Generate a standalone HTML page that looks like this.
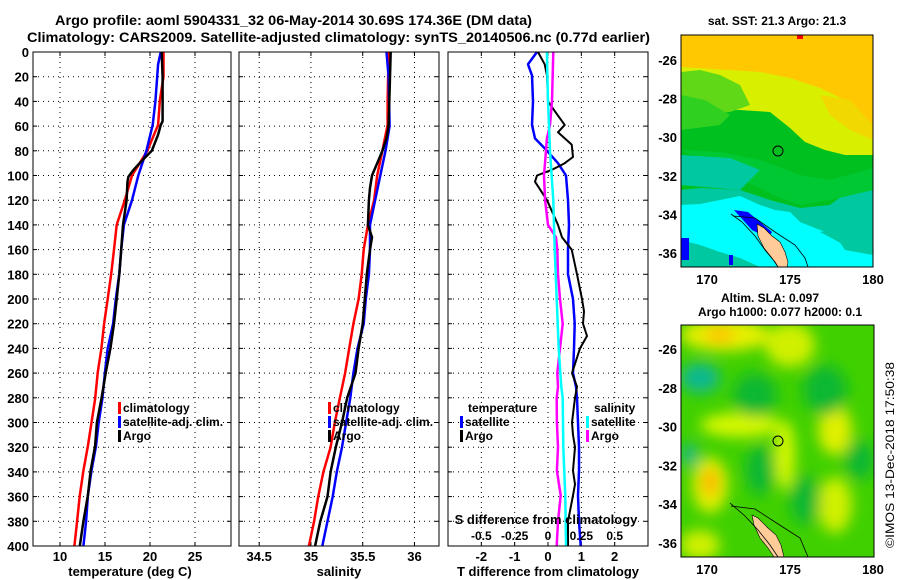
<!DOCTYPE html>
<html><head><meta charset="utf-8"><style>
html,body{margin:0;padding:0;background:#fff;}
svg{display:block;font-family:"Liberation Sans",Arial,sans-serif;font-weight:bold;}
</style></head><body>
<svg id="s" width="900" height="580" viewBox="0 0 900 580">
<defs>
<clipPath id="cm1"><rect x="681" y="35" width="192" height="232"/></clipPath>
<clipPath id="cm2"><rect x="681" y="325" width="193" height="232"/></clipPath>
<filter id="bl" x="-50%" y="-50%" width="200%" height="200%"><feGaussianBlur stdDeviation="7"/></filter>
</defs>
<text x="55" y="25" font-size="14" textLength="477" lengthAdjust="spacingAndGlyphs">Argo profile: aoml 5904331_32 06-May-2014 30.69S 174.36E (DM data)</text>
<text x="27" y="42" font-size="14" textLength="623" lengthAdjust="spacingAndGlyphs">Climatology: CARS2009. Satellite-adjusted climatology: synTS_20140506.nc (0.77d earlier)</text>
<g id="plots"></g>
<!-- Top map -->
<g>
<text x="777" y="25" font-size="12" text-anchor="middle">sat. SST: 21.3 Argo: 21.3</text>
<g clip-path="url(#cm1)">
<rect x="681" y="35" width="192" height="232" fill="#00c8a0"/>
<polygon fill="#00c020" points="681,110 873,110 873,185 850,190 830,205 800,208 770,200 740,190 700,188 681,190"/>
<polygon fill="#d8f000" points="681,67 873,67 873,155 845,155 825,150 805,142 790,128 770,112 740,110 705,110 681,112"/>
<polygon fill="#ffc800" points="681,35 873,35 873,125 860,115 845,100 820,88 790,78 760,72 730,70 681,67"/>
<polygon fill="#f0d800" points="820,95 850,100 873,125 873,140 850,130 830,115"/>
<polygon fill="#60d818" points="681,72 700,70 720,75 740,85 750,105 730,112 700,115 681,118"/>
<polygon fill="#30d020" points="681,95 705,100 730,115 720,125 681,130"/>
<polygon fill="#00c832" points="681,150 720,152 760,160 800,175 830,180 873,168 873,190 830,200 800,205 780,198"/>
<polygon fill="#00c8a0" points="681,155 730,158 760,170 740,190 681,185"/>
<polygon fill="#00ffff" points="681,205 700,204 720,200 740,196 760,205 775,210 790,212 800,222 820,230 835,235 845,250 873,255 873,267 681,267"/>
<polygon fill="#00c8a0" points="681,240 700,245 720,252 740,258 760,267 681,267"/>
<polygon fill="#00c8a0" points="820,232 873,222 873,250 850,248"/>
<polygon fill="#0000ff" points="734,210 748,212 760,222 772,232 768,238 752,230"/>
<rect x="681" y="238" width="8" height="22" fill="#0000ff"/>
<rect x="729" y="255" width="4" height="10" fill="#0000ff"/>
<rect x="797" y="35" width="6" height="4" fill="#ff0000"/>
<polygon fill="#ffcc99" stroke="#000" stroke-width="0.6" points="757,224 764,228 772,236 780,242 785,252 788,262 787,267 778,267 772,258 764,248 758,236"/>
<polyline fill="none" stroke="#000" stroke-width="0.8" points="731,214 742,222 755,236 765,250 775,262 778,267"/>
<polyline fill="none" stroke="#000" stroke-width="0.8" points="733,216 755,218 775,232 795,245 805,258 808,267"/>
</g>
<circle cx="778" cy="151" r="5" fill="none" stroke="#000" stroke-width="1"/>
<rect x="681" y="35" width="192" height="232" fill="none" stroke="#000" stroke-width="1"/>
</g>
<!-- Bottom map -->
<g>
<text x="770" y="302" font-size="12" text-anchor="middle">Altim. SLA: 0.097</text>
<text x="780" y="316" font-size="12" text-anchor="middle">Argo h1000: 0.077 h2000: 0.1</text>
<g clip-path="url(#cm2)">
<rect x="681" y="325" width="193" height="232" fill="#40d000"/>
<g filter="url(#bl)">
<ellipse cx="725" cy="335" rx="45" ry="16" fill="#e8f000"/>
<ellipse cx="720" cy="335" rx="15" ry="8" fill="#ffc000"/>
<ellipse cx="790" cy="345" rx="25" ry="22" fill="#d0f000"/>
<ellipse cx="700" cy="378" rx="20" ry="15" fill="#10b890"/>
<ellipse cx="690" cy="455" rx="8" ry="12" fill="#10b890"/>
<ellipse cx="740" cy="425" rx="40" ry="12" fill="#d8f800"/>
<ellipse cx="785" cy="455" rx="10" ry="35" fill="#d8f800"/>
<ellipse cx="835" cy="430" rx="17" ry="25" fill="#e0f000"/>
<ellipse cx="710" cy="485" rx="18" ry="28" fill="#e0f000"/>
<ellipse cx="710" cy="482" rx="8" ry="14" fill="#ffb000"/>
<ellipse cx="835" cy="505" rx="17" ry="28" fill="#d0f000"/>
<ellipse cx="700" cy="545" rx="20" ry="15" fill="#d0f000"/>
<ellipse cx="755" cy="395" rx="22" ry="22" fill="#10b830"/>
<ellipse cx="825" cy="390" rx="22" ry="25" fill="#10b830"/>
<ellipse cx="760" cy="470" rx="15" ry="25" fill="#10b830"/>
<ellipse cx="805" cy="500" rx="15" ry="25" fill="#10b830"/>
<ellipse cx="860" cy="460" rx="15" ry="20" fill="#10b830"/>
</g>
<polygon fill="#ffcc99" stroke="#000" stroke-width="0.6" points="752,515 758,518 768,528 776,535 781,545 784,557 774,557 768,548 760,538 754,525"/>
<polyline fill="none" stroke="#000" stroke-width="0.8" points="730,503 745,516 758,530 770,545 778,557"/>
<polyline fill="none" stroke="#000" stroke-width="0.8" points="731,506 755,509 775,522 800,538 808,557"/>
</g>
<circle cx="778" cy="441" r="5" fill="none" stroke="#000" stroke-width="1"/>
<rect x="681" y="325" width="193" height="232" fill="none" stroke="#000" stroke-width="1"/>
</g>
<text x="0" y="0" font-size="12" font-weight="normal" transform="translate(894,548) rotate(-90)" textLength="186" lengthAdjust="spacingAndGlyphs">©IMOS 13-Dec-2018 17:50:38</text>
</svg>
<script>
// ===== Data =====
const tClimDepth=[0,20,39,59,80,100,120,140,160,179,200,220,240,259,281,300,319,339,359,380,400];
const tClim=[21.5,21.5,21.1,20.9,19.7,18.0,17.2,16.3,16.0,15.7,15.3,14.9,14.6,14.2,13.9,13.5,13.1,12.6,12.2,11.9,11.6];
const tSatDepth=[0,10,20,40,59,80,100,120,140,160,179,200,220,240,259,281,300,319,339,359,380,400];
const tSat=[21.2,20.9,20.8,20.6,20.3,19.6,18.7,18.0,17.1,16.8,16.6,16.2,15.9,15.3,15.0,14.7,14.3,14.0,13.5,13.1,12.9,12.6];
const tArgoDepth=[0,20,56,59,67,80,88,96,101,105,120,140,160,179,200,220,240,259,281,300,319,339,359,380,400];
const tArgo=[21.3,21.4,21.4,21.2,20.9,20.2,19.1,18.1,17.6,17.5,17.4,17.0,16.8,16.6,16.3,16.0,15.6,15.1,14.6,14.1,13.9,13.4,13.1,12.6,12.2];
const sClimDepth=[0,40,59,80,100,120,140,160,180,200,220,240,260,280,300,320,340,360,380,400];
const sClim=[35.75,35.74,35.74,35.69,35.64,35.61,35.55,35.51,35.49,35.46,35.41,35.37,35.33,35.28,35.23,35.19,35.12,35.07,35.03,34.98];
const sSatDepth=[0,20,60,80,100,120,140,160,180,200,220,240,260,280,300,320,340,360,380,400];
const sSat=[35.73,35.75,35.76,35.72,35.67,35.62,35.57,35.57,35.56,35.53,35.51,35.45,35.41,35.38,35.34,35.30,35.25,35.21,35.16,35.11];
const sArgoDepth=[0,60,70,80,90,100,110,120,140,150,160,180,200,220,240,260,280,300,320,340,360,380,400];
const sArgo=[35.77,35.75,35.73,35.69,35.64,35.59,35.57,35.56,35.55,35.59,35.57,35.54,35.52,35.50,35.46,35.43,35.35,35.30,35.24,35.19,35.16,35.09,35.04];
const dtSatDepth=[0,10,19,40,59,70,80,90,100,120,140,160,180,200,220,240,260,271,280,300,320,339,359,380,400];
const dtSat=[-0.33,-0.6,-0.48,-0.45,-0.48,-0.39,-0.03,0.3,0.54,0.6,0.63,0.6,0.6,0.75,0.8,0.78,0.75,0.84,0.87,0.9,0.93,0.93,0.9,0.93,0.98];
const dtArgoDepth=[0,10,19,40,50,59,65,75,85,90,95,100,105,120,140,150,160,180,200,210,220,230,240,260,271,280,300,310,320,339,350,359,380,400];
const dtArgo=[-0.3,-0.1,-0.03,0,0.26,0.5,0.3,0.71,0.75,0.5,0.15,-0.33,-0.39,-0.03,0.3,0.42,0.71,0.87,1.02,1.08,1.05,1.17,0.96,0.72,0.87,0.81,0.72,0.75,0.81,0.75,0.81,0.75,0.6,0.6];
const dsArgoDepth=[0,40,59,70,80,100,120,140,150,160,180,200,220,240,260,271,280,300,320,339,359,380,400];
const dsArgo=[0.04,0.03,0.015,-0.008,-0.015,-0.03,-0.022,0,0.06,0.07,0.075,0.09,0.11,0.09,0.07,0.075,0.065,0.067,0.075,0.067,0.095,0.075,0.065];
const dsSatDepth=[0,40,80,120,160,200,240,271,280,320,360,400];
const dsSat=[-0.008,0,0.015,0.04,0.05,0.065,0.08,0.1,0.11,0.115,0.13,0.135];
const yTicks=[0,20,40,60,80,100,120,140,160,180,200,220,240,260,280,300,320,340,360,380,400];
const tTicks=[10,15,20,25];
const sTicks=[34.5,35,35.5,36];
const dtTicks=[-2,-1,0,1,2];
const dsTicks=[-0.5,-0.25,0,0.25,0.5];
const dsTickLabels=["-0.5","-0.25","0","0.25","0.5"];
const lonTicks=[170,175,180];
const latTicks=[-26,-28,-30,-32,-34,-36];

// ===== Drawing =====
const NS="http://www.w3.org/2000/svg";
const root=document.getElementById('plots');
function mk(tag,attrs,parent){const e=document.createElementNS(NS,tag);for(const k in attrs)e.setAttribute(k,attrs[k]);(parent||root).appendChild(e);return e;}
const Y0=52,Y1=546;
function yScale(d){return Y0+(d/400)*(Y1-Y0);}
function makeX(x0,x1,v0,v1){return v=>x0+(v-v0)/(v1-v0)*(x1-x0);}

function panel(name,x0,x1,xs,xTicks,xLabels,showY){
  const g=mk('g',{});
  
  
  xTicks.forEach(t=>{const l=mk('line',{x1:xs(t),x2:xs(t),y1:Y0,y2:Y1,stroke:'#000','stroke-width':1,'stroke-dasharray':'1,4'},g);
    
    
    mk('line',{x1:xs(t),x2:xs(t),y1:Y0,y2:Y0+4,stroke:'#000'},g);mk('line',{x1:xs(t),x2:xs(t),y1:Y1,y2:Y1-4,stroke:'#000'},g);});
  yTicks.forEach(t=>{if(t>0&&t<400){const l=mk('line',{x1:x0,x2:x1,y1:yScale(t),y2:yScale(t),stroke:'#000','stroke-width':1,'stroke-dasharray':'1,4'},g);
    
    }
    mk('line',{x1:x0,x2:x0+4,y1:yScale(t),y2:yScale(t),stroke:'#000'},g);mk('line',{x1:x1,x2:x1-4,y1:yScale(t),y2:yScale(t),stroke:'#000'},g);
    if(showY){const tx=mk('text',{x:x0-4,y:yScale(t)+5,'font-size':13,'text-anchor':'end'},g);tx.textContent=t;
      
      }});
  if(xLabels){xTicks.forEach((t,i)=>{const tx=mk('text',{x:xs(t),y:561,'font-size':13,'text-anchor':'middle'},g);tx.textContent=xLabels[i];
    
    });}
  return g;
}
function line(g,name,xs,vals,depths,color,w){
  const pts=vals.map((v,i)=>xs(v).toFixed(1)+','+yScale(depths[i]).toFixed(1)).join(' ');
  const p=mk('polyline',{points:pts,fill:'none',stroke:color,'stroke-width':w,'stroke-linejoin':'round'},g);
  
  
}
function frame(g,x0,x1){mk('rect',{x:x0,y:Y0,width:x1-x0,height:Y1-Y0,fill:'none',stroke:'#000','stroke-width':1},g);}
function legendItem(g,name,x,y,color,label){
  mk('rect',{x:x,y:y-10,width:3,height:12,fill:color},g);
  const t=mk('text',{x:x+5,y:y,'font-size':12},g);t.textContent=label;
  
  
}
function label(g,name,x,y,txt,anchor){const t=mk('text',{x:x,y:y,'font-size':13,'text-anchor':anchor||'middle'},g);t.textContent=txt;
  
  }

const xT=makeX(33,231,7,29);
let g=panel('temperature-panel',33,231,xT,tTicks,tTicks.map(String),true);
line(g,'temperature-climatology-line',xT,tClim,tClimDepth,'#ff0000',2.5);
line(g,'temperature-satellite-line',xT,tSat,tSatDepth,'#0000ff',2.5);
line(g,'temperature-argo-line',xT,tArgo,tArgoDepth,'#000',2.5);
frame(g,33,231);
legendItem(g,'legend-climatology',118,412,'#ff0000','climatology');
legendItem(g,'legend-satellite-adj',118,426,'#0000ff','satellite-adj. clim.');
legendItem(g,'legend-argo',118,440,'#000','Argo');
label(g,'temperature-axis-title',130,576,'temperature (deg C)');

const xS=makeX(239,439,34.305,36.237);
g=panel('salinity-panel',239,439,xS,sTicks,sTicks.map(String),false);
line(g,'salinity-climatology-line',xS,sClim,sClimDepth,'#ff0000',2.5);
line(g,'salinity-satellite-line',xS,sSat,sSatDepth,'#0000ff',2.5);
line(g,'salinity-argo-line',xS,sArgo,sArgoDepth,'#000',2.5);
frame(g,239,439);
legendItem(g,'legend-climatology-s',328,412,'#ff0000','climatology');
legendItem(g,'legend-satellite-adj-s',328,426,'#0000ff','satellite-adj. clim.');
legendItem(g,'legend-argo-s',328,440,'#000','Argo');
label(g,'salinity-axis-title',339,576,'salinity');

const xD=makeX(448,648,-3,3);
const xDS=makeX(448,648,-0.75,0.75);
g=panel('difference-panel',448,648,xD,dtTicks,dtTicks.map(String),false);
line(g,'t-diff-satellite-line',xD,dtSat,dtSatDepth,'#0000ff',2.5);
line(g,'t-diff-argo-line',xD,dtArgo,dtArgoDepth,'#000',2);
line(g,'s-diff-argo-line',xDS,dsArgo,dsArgoDepth,'#ff00ff',2.5);
line(g,'s-diff-satellite-line',xDS,dsSat,dsSatDepth,'#00ffff',2.5);
frame(g,448,648);
{const t=mk('text',{x:468,y:412,'font-size':12},g);t.textContent='temperature';

}
legendItem(g,'legend-t-satellite',460,426,'#0000ff','satellite');
legendItem(g,'legend-t-argo',460,440,'#000','Argo');
{const t=mk('text',{x:594,y:412,'font-size':12},g);t.textContent='salinity';

}
legendItem(g,'legend-s-satellite',586,426,'#00ffff','satellite');
legendItem(g,'legend-s-argo',586,440,'#ff00ff','Argo');
label(g,'s-diff-axis-title',546,524,'S difference from climatology');
dsTicks.forEach((t,i)=>{const tx=mk('text',{x:xDS(t),y:540,'font-size':12,'text-anchor':'middle'},g);tx.textContent=dsTickLabels[i];
  
  });
label(g,'t-diff-axis-title',548,576,'T difference from climatology');

function mapAxes(top,bottom,yFn,labelY){
  const xm=v=>707+(v-170)*16.6;
  lonTicks.forEach(t=>{mk('line',{x1:xm(t),x2:xm(t),y1:top,y2:top+4,stroke:'#000'});mk('line',{x1:xm(t),x2:xm(t),y1:bottom,y2:bottom-4,stroke:'#000'});
    const tx=mk('text',{x:xm(t),y:labelY,'font-size':13,'text-anchor':'middle'});tx.textContent=t;
    
    });
  latTicks.forEach(t=>{const y=yFn(t);mk('line',{x1:681,x2:685,y1:y,y2:y,stroke:'#000'});mk('line',{x1:873,x2:869,y1:y,y2:y,stroke:'#000'});
    const tx=mk('text',{x:677,y:y+5,'font-size':13,'text-anchor':'end'});tx.textContent=t;
    
    });
}
mapAxes(35,267,lat=>60+(-26-lat)*19.3,284);
mapAxes(325,557,lat=>349+(-26-lat)*19.4,574);
</script>
</body></html>
